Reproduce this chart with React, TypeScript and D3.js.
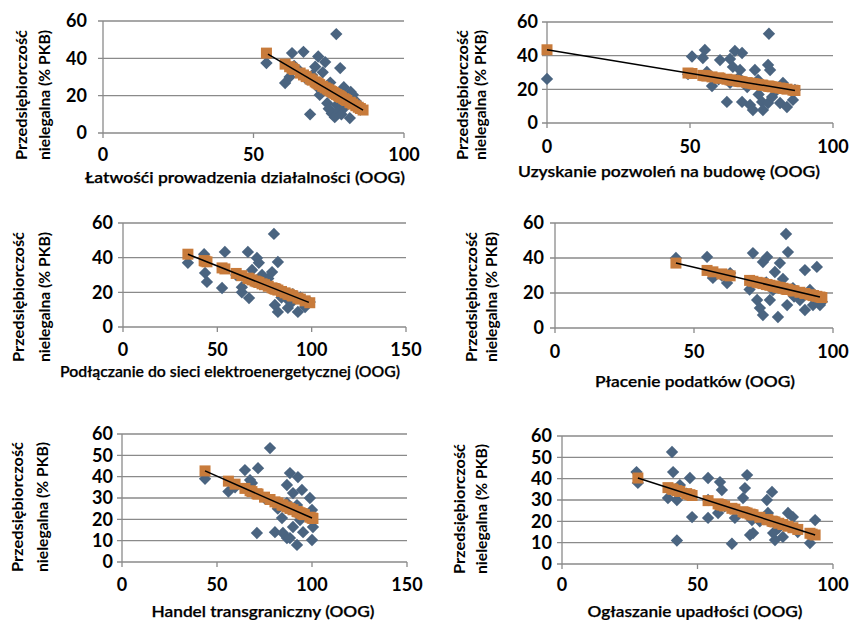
import React from 'react';
import * as d3 from 'd3';

type Pt = [number, number];

// osie i podpisy
const yTicksCoarse = [0, 20, 40, 60];
const yTicksFine = [0, 10, 20, 30, 40, 50, 60];
const xTicks100 = [0, 50, 100];
const xTicks150 = [0, 50, 100, 150];

const xTitles = [
  'Łatwośći prowadzenia działalności (OOG)',
  'Uzyskanie pozwoleń na budowę (OOG)',
  'Podłączanie do sieci elektroenergetycznej (OOG)',
  'Płacenie podatków (OOG)',
  'Handel transgraniczny  (OOG)',
  'Ogłaszanie upadłości  (OOG)',
];
const yTitleLines = ['Przedsiębiorczość', 'nielegalna (% PKB)'];

// 1. łatwość prowadzenia działalności
const ease1Obs: Pt[] = [
  [54.3, 37.5], [60.5, 26.8], [62, 30], [62.8, 42.8], [63.5, 36], [65.5, 33], [66.6, 43.5],
  [67.5, 29], [68.8, 10], [69.5, 31], [70.5, 35.5], [71, 25], [71.5, 41], [72, 20.4],
  [73, 32.5], [73.8, 38], [74.5, 16], [75, 13], [75.5, 27], [76, 10.5], [76.5, 22],
  [77, 8.5], [77.5, 53], [77.7, 15], [78.3, 12], [78.5, 20], [78.8, 34.8], [79.2, 10],
  [80, 24.5], [80.5, 14], [81, 18], [82, 8], [82.3, 22], [83, 20.5], [84, 17],
  [84.8, 14], [85.5, 12.5],
];
const ease1Fit: Pt[] = [
  [54.3, 42.8], [60.5, 36.9], [62, 35.5], [62.8, 34.7], [63.5, 34], [65.5, 32.1], [66.6, 31.1],
  [67.5, 30.2], [68.8, 29], [69.5, 28.3], [70.5, 27.4], [71, 26.9], [71.5, 26.4], [72, 25.9],
  [73, 25], [73.8, 24.2], [74.5, 23.6], [75, 23.1], [75.5, 22.6], [76, 22.2], [76.5, 21.7],
  [77, 21.2], [77.5, 20.7], [77.7, 20.5], [78.3, 20], [78.5, 19.8], [78.8, 19.5], [79.2, 19.1],
  [80, 18.4], [80.5, 17.9], [81, 17.4], [82, 16.5], [82.3, 16.2], [83, 15.5], [84, 14.6],
  [84.8, 13.8], [85.5, 13.1], [86.4, 12.3],
];
const ease1Trend: Pt[] = [[54.8, 42.3], [86.4, 12.3]];

// 2. pozwolenia na budowę
const permitsObs: Pt[] = [
  [0, 26.2], [49.3, 29], [50.7, 39.5], [54.5, 38.6], [55.2, 43.4], [55.9, 30.3], [57.7, 22],
  [60, 26], [60.5, 37.4], [62.9, 12.5], [64, 38], [64, 23.8], [65, 33.3], [65.7, 42.8],
  [67, 27], [67.5, 31.5], [68.2, 41.6], [68.2, 12.5], [70, 21.4], [71, 10.7], [72, 7.7],
  [72.7, 31.5], [73.8, 25.6], [74, 17], [75.2, 12.5], [75.5, 7.7], [77.3, 34.5], [77.3, 11.9],
  [77.6, 53], [78, 31.5], [78.7, 15.4], [80, 19], [81.5, 11.9], [82.5, 23.8], [83.9, 9.5],
  [86, 13.7], [86.7, 19.6],
];
const permitsFit: Pt[] = [
  [0, 43.5], [49.3, 29.7], [50.7, 29.4], [54.5, 28.3], [55.2, 28.1], [55.9, 27.9], [57.7, 27.4],
  [60, 26.8], [60.5, 26.6], [62.9, 26], [64, 25.6], [65, 25.4], [65.7, 25.2], [67, 24.8],
  [67.5, 24.7], [68.2, 24.5], [70, 24], [71, 23.7], [72, 23.4], [72.7, 23.2], [73.8, 22.9],
  [74, 22.9], [75.2, 22.5], [75.5, 22.4], [77.3, 21.9], [77.6, 21.9], [78, 21.7], [78.7, 21.5],
  [80, 21.2], [81.5, 20.8], [82.5, 20.5], [83.9, 20.1], [86, 19.5], [86.7, 19.3],
];
const permitsTrend: Pt[] = [[0, 43.5], [86.7, 19.3]];

// 3. podłączanie do sieci
const powerObs: Pt[] = [
  [34.4, 37], [43, 42], [43.5, 31.2], [44.5, 26], [52.5, 22.5], [54, 43.3], [60, 30],
  [63, 20], [63, 23], [66.2, 43.3], [66.8, 16.7], [68.4, 32.9], [70, 26], [71, 39.8],
  [72, 37], [73.7, 30], [75, 25], [77, 28], [79, 31.7], [80, 53.7], [80.5, 12.7],
  [81, 22], [82.1, 37.5], [82.1, 8.7], [84, 17], [85.9, 19.6], [87.4, 11], [88, 15],
  [89.6, 14.4], [90, 19], [92.7, 8.7], [94, 17], [96.5, 11.5], [99, 14.4],
];
const powerFit: Pt[] = [
  [34.4, 42], [43, 38.3], [43.5, 38], [44.5, 37.6], [52.5, 34.1], [54, 33.5], [60, 30.9],
  [63, 29.6], [66.2, 28.2], [66.8, 27.9], [68.4, 27.2], [70, 26.5], [71, 26.1], [72, 25.7],
  [73.7, 24.9], [75, 24.4], [77, 23.5], [79, 22.6], [80, 22.2], [80.5, 22], [81, 21.8],
  [82.1, 21.3], [84, 20.5], [85.9, 19.7], [87.4, 19], [88, 18.8], [89.6, 18.1], [90, 17.9],
  [92.7, 16.7], [94, 16.1], [96.5, 15.1], [99, 14],
];
const powerTrend: Pt[] = [[34.4, 42], [98.5, 14.2]];

// 4. płacenie podatków
const taxObs: Pt[] = [
  [43.5, 40], [54.7, 40.6], [56.8, 28.6], [60, 30], [61.9, 25.7], [63, 31.4], [70, 22],
  [71.2, 42.8], [72.7, 16], [73.7, 11.4], [74.8, 7.4], [74.8, 37.7], [76, 26], [76.3, 40.6],
  [77.3, 16], [78.4, 21.7], [79.1, 32], [80.2, 6.3], [80.9, 37.1], [82, 28], [83.1, 53.7],
  [83.5, 13.1], [83.8, 43.4], [85.6, 22.8], [86, 18], [88.1, 16], [89.9, 33.1], [89.9, 10.3],
  [91.7, 21.7], [92.8, 13.1], [93, 17], [94.2, 34.9], [95.3, 13.1], [96, 15],
];
const taxFit: Pt[] = [
  [43.5, 37.1], [54.7, 32.9], [56.8, 32.1], [60, 30.9], [61.9, 30.2], [63, 29.8], [70, 27.2],
  [71.2, 26.7], [72.7, 26.1], [73.7, 25.8], [74.8, 25.4], [76, 24.9], [76.3, 24.8], [77.3, 24.4],
  [78.4, 24], [79.1, 23.8], [80.2, 23.3], [80.9, 23.1], [82, 22.7], [83.1, 22.2], [83.5, 22.1],
  [83.8, 22], [85.6, 21.3], [86, 21.2], [88.1, 20.4], [89.9, 19.7], [91.7, 19], [92.8, 18.6],
  [93, 18.5], [94.2, 18.1], [95.3, 17.7], [96, 17.4],
];
const taxTrend: Pt[] = [[43.5, 37.1], [95.3, 17.7]];

// 5. handel transgraniczny
const tradeObs: Pt[] = [
  [43.7, 39], [56, 33], [59.5, 35], [64.7, 43.1], [67.4, 38.4], [68.4, 37], [71, 13.6],
  [71.6, 44], [75, 30], [77.9, 53.4], [80.5, 14], [82, 25], [84.2, 20.6], [84.7, 13.6],
  [86.8, 36.1], [86.8, 27.7], [86.8, 11.2], [88.4, 41.7], [88.4, 11.2], [90, 32.3], [90, 16.4],
  [92.1, 26.7], [92.1, 8], [92.6, 39.8], [93.7, 19.7], [94.7, 33.8], [95.3, 14], [96, 22],
  [98.9, 30], [100, 24.4], [100, 10.3], [100.5, 16.4],
];
const tradeFit: Pt[] = [
  [43.7, 42.7], [56, 37.9], [59.5, 36.5], [64.7, 34.5], [67.4, 33.4], [68.4, 33], [71, 32],
  [71.6, 31.8], [75, 30.4], [77.9, 29.3], [80.5, 28.2], [82, 27.7], [84.2, 26.8], [84.7, 26.6],
  [86.8, 25.8], [88.4, 25.1], [90, 24.5], [92.1, 23.7], [92.6, 23.5], [93.7, 23.1], [94.7, 22.7],
  [95.3, 22.4], [96, 22.2], [98.9, 21], [100, 20.6], [100.5, 20.4],
];
const tradeTrend: Pt[] = [[43.7, 42.7], [100, 20.6]];

// 6. ogłaszanie upadłości
const insolvObs: Pt[] = [
  [27.5, 43.1], [28, 38], [39.1, 30.9], [40.6, 52.5], [41, 43.1], [42.4, 30], [42.4, 11],
  [43.5, 37], [46, 33], [47.2, 40.3], [48, 22], [53.9, 40.3], [53.9, 21.6], [53.9, 30],
  [57.6, 23.9], [58.3, 38.4], [59, 34.7], [60, 27], [62.7, 9.5], [63.8, 21.6], [66.8, 30.9],
  [67.5, 35.6], [68.3, 41.7], [69.4, 13.6], [70.1, 20.6], [70.5, 14.5], [73, 20], [75.6, 30],
  [76, 23.9], [77.5, 33.8], [77.9, 14.5], [78.6, 11.2], [80, 17], [81.5, 12.7], [83.4, 23.9],
  [85.2, 22], [87, 15], [91.5, 9.8], [92.3, 13.6], [93.4, 20.6],
];
const insolvFit: Pt[] = [
  [28, 40.3], [39.1, 35.8], [40.6, 35.2], [41, 35], [42.4, 34.4], [43.5, 34], [46, 33],
  [47.2, 32.5], [48, 32.1], [53.9, 29.7], [57.6, 28.2], [58.3, 27.9], [59, 27.6], [60, 27.2],
  [62.7, 26.1], [63.8, 25.7], [66.8, 24.5], [67.5, 24.2], [68.3, 23.9], [69.4, 23.4], [70.1, 23.1],
  [70.5, 23], [73, 21.9], [75.6, 20.9], [76, 20.7], [77.5, 20.1], [77.9, 19.9], [78.6, 19.7],
  [80, 19.1], [81.5, 18.5], [83.4, 17.7], [85.2, 17], [87, 16.2], [91.5, 14.4], [92.3, 14],
  [93.4, 13.6],
];
const insolvTrend: Pt[] = [[28, 40.3], [93.4, 13.6]];

const obsColor = '#4a6480';
const fitColor = '#c87b3b';
const gridColor = '#8a8a8a';
const font = 'Lato, "Open Sans", sans-serif';

// rozmieszczenie paneli
const layout = [
  { left: 103, right: 404, top: 21, bottom: 133, xMax: 100, xTicks: xTicks100, yTicks: yTicksCoarse,
    tickRight: 87, xLabY: 161, titleX: 245, titleY: 183, titleW: 320, yl1: 22, yl2: 45, ylc: 95 },
  { left: 547, right: 833, top: 22, bottom: 123, xMax: 100, xTicks: xTicks100, yTicks: yTicksCoarse,
    tickRight: 538, xLabY: 153, titleX: 669, titleY: 177, titleW: 302, yl1: 463, yl2: 481, ylc: 95 },
  { left: 123, right: 406, top: 223, bottom: 327, xMax: 150, xTicks: xTicks150, yTicks: yTicksCoarse,
    tickRight: 113, xLabY: 356, titleX: 230, titleY: 377, titleW: 340, yl1: 19, yl2: 45, ylc: 297 },
  { left: 555, right: 833, top: 223, bottom: 328, xMax: 100, xTicks: xTicks100, yTicks: yTicksCoarse,
    tickRight: 544, xLabY: 358, titleX: 695, titleY: 387, titleW: 200, yl1: 472, yl2: 492, ylc: 297 },
  { left: 122, right: 407, top: 434, bottom: 562, xMax: 150, xTicks: xTicks150, yTicks: yTicksFine,
    tickRight: 113, xLabY: 591, titleX: 263, titleY: 617, titleW: 223, yl1: 18, yl2: 43, ylc: 507 },
  { left: 562, right: 833, top: 436, bottom: 564, xMax: 100, xTicks: xTicks100, yTicks: yTicksFine,
    tickRight: 552, xLabY: 591, titleX: 695, titleY: 617, titleW: 215, yl1: 460, yl2: 482, ylc: 509 },
];

const series = [
  { obs: ease1Obs, fit: ease1Fit, trend: ease1Trend },
  { obs: permitsObs, fit: permitsFit, trend: permitsTrend },
  { obs: powerObs, fit: powerFit, trend: powerTrend },
  { obs: taxObs, fit: taxFit, trend: taxTrend },
  { obs: tradeObs, fit: tradeFit, trend: tradeTrend },
  { obs: insolvObs, fit: insolvFit, trend: insolvTrend },
];

const diamondPath = d3.symbol(d3.symbolSquare, 76)() as string;
const squarePath = d3.symbol(d3.symbolSquare, 121)() as string;

const Panel = ({ cfg, data, title }: any) => {
  const x = d3.scaleLinear().domain([0, cfg.xMax]).range([cfg.left, cfg.right]);
  const y = d3.scaleLinear().domain([0, 60]).range([cfg.bottom, cfg.top]);
  const line = d3.line<Pt>().x(d => x(d[0])).y(d => y(d[1]));

  return (
    <g>
      {cfg.yTicks.map((t: number) => (
        <line key={'g' + t} x1={cfg.left - 5} x2={cfg.right} y1={y(t)} y2={y(t)}
          stroke={gridColor} strokeWidth={1.3} />
      ))}
      <line x1={cfg.left} x2={cfg.left} y1={cfg.top} y2={cfg.bottom} stroke={gridColor} strokeWidth={1.3} />
      {cfg.xTicks.map((t: number) => (
        <line key={'t' + t} x1={x(t)} x2={x(t)} y1={cfg.bottom} y2={cfg.bottom + 5}
          stroke={gridColor} strokeWidth={1.3} />
      ))}
      {cfg.yTicks.map((t: number) => (
        <text key={'yl' + t} x={cfg.tickRight} y={y(t)} dy="0.36em" textAnchor="end"
          fontSize={18} fontWeight="bold" fontFamily={font}>{t}</text>
      ))}
      {cfg.xTicks.map((t: number) => (
        <text key={'xl' + t} x={x(t)} y={cfg.xLabY} textAnchor="middle"
          fontSize={18} fontWeight="bold" fontFamily={font}>{t}</text>
      ))}
      <text x={cfg.titleX} y={cfg.titleY} textAnchor="middle" fontSize={15.5} fontWeight={600}
        fontFamily={font} textLength={cfg.titleW} lengthAdjust="spacingAndGlyphs"
        stroke="#000" strokeWidth={0.25}>{title}</text>
      {yTitleLines.map((s, i) => (
        <text key={s} transform={`translate(${i === 0 ? cfg.yl1 : cfg.yl2},${cfg.ylc}) rotate(-90)`}
          dy="0.35em" textAnchor="middle" fontSize={15.5} fontWeight="bold" fontFamily={font}
          textLength={130} lengthAdjust="spacingAndGlyphs">{s}</text>
      ))}
      {data.obs.map((d: Pt, i: number) => (
        <path key={'o' + i} d={diamondPath} fill={obsColor}
          transform={`translate(${x(d[0])},${y(d[1])}) rotate(45)`} />
      ))}
      {data.fit.map((d: Pt, i: number) => (
        <path key={'f' + i} d={squarePath} fill={fitColor}
          transform={`translate(${x(d[0])},${y(d[1])})`} />
      ))}
      <path d={line(data.trend) as string} fill="none" stroke="#000" strokeWidth={1.5} />
    </g>
  );
};

export default function App() {
  return (
    <svg width={851} height={620} style={{ position: 'absolute', left: 0, top: 0, background: '#fff' }}>
      {layout.map((cfg, i) => (
        <Panel key={i} cfg={cfg} data={series[i]} title={xTitles[i]} />
      ))}
    </svg>
  );
}
